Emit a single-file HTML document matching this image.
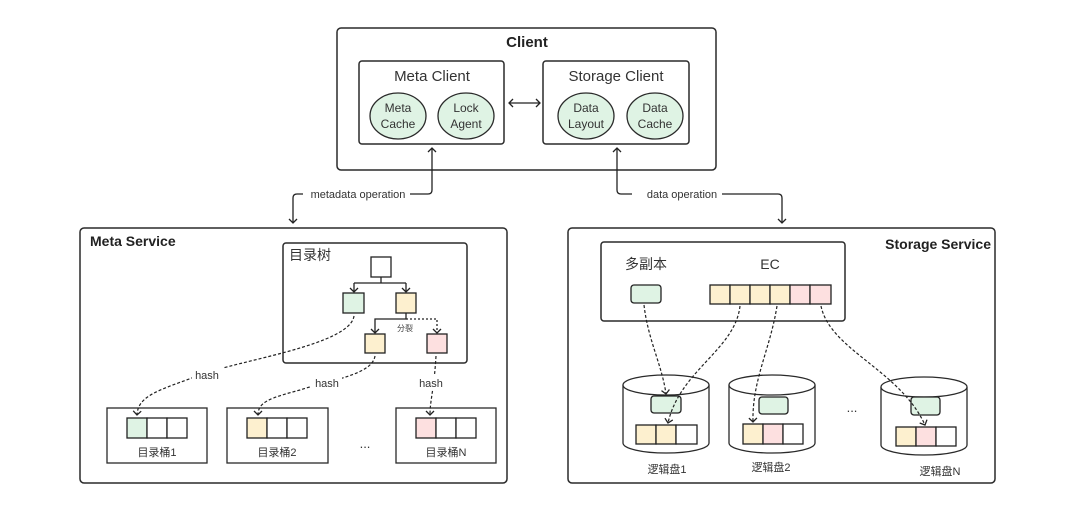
<!DOCTYPE html>
<html><head><meta charset="utf-8"><style>
html,body{margin:0;padding:0;background:#fff;}
svg{display:block;font-family:"Liberation Sans","Noto Sans CJK SC",sans-serif;}
</style></head><body>
<svg width="1080" height="523" viewBox="0 0 1080 523" xmlns="http://www.w3.org/2000/svg">
<defs>
<marker id="ah" markerWidth="10" markerHeight="10" refX="5" refY="5" orient="auto-start-reverse" markerUnits="userSpaceOnUse">
<path d="M1,1 L5,5 L1,9" fill="none" stroke="#222" stroke-width="1.3"/>
</marker>
</defs>
<g fill="none" stroke="#2a2a2a" stroke-width="1.5">
<rect x="337" y="28" width="379" height="142" rx="4"/>
<rect x="359" y="61" width="145" height="83" rx="3"/>
<rect x="543" y="61" width="146" height="83" rx="3"/>
</g>
<g fill="#dff3e4" stroke="#2a2a2a" stroke-width="1.3">
<ellipse cx="398" cy="116" rx="28" ry="23"/>
<ellipse cx="466" cy="116" rx="28" ry="23"/>
<ellipse cx="586" cy="116" rx="28" ry="23"/>
<ellipse cx="655" cy="116" rx="28" ry="23"/>
</g>
<g font-size="12" fill="#333" text-anchor="middle">
<text x="398" y="112">Meta</text><text x="398" y="128">Cache</text>
<text x="466" y="112">Lock</text><text x="466" y="128">Agent</text>
<text x="586" y="112">Data</text><text x="586" y="128">Layout</text>
<text x="655" y="112">Data</text><text x="655" y="128">Cache</text>
</g>
<text x="527" y="47" font-size="15" font-weight="bold" text-anchor="middle" fill="#222">Client</text>
<text x="432" y="81" font-size="15" text-anchor="middle" fill="#333">Meta Client</text>
<text x="616" y="81" font-size="15" text-anchor="middle" fill="#333">Storage Client</text>
<g fill="none" stroke="#222" stroke-width="1.3">
<line x1="509" y1="103" x2="540" y2="103" marker-end="url(#ah)" marker-start="url(#ah)"/>
<path d="M410,194 H428 Q432,194 432,190 V148" marker-end="url(#ah)"/>
<path d="M303,194 H297 Q293,194 293,198 V223" marker-end="url(#ah)"/>
<path d="M632,194 H621 Q617,194 617,190 V148" marker-end="url(#ah)"/>
<path d="M722,194 H778 Q782,194 782,198 V223" marker-end="url(#ah)"/>
</g>
<text x="358" y="198" font-size="11" text-anchor="middle" fill="#333">metadata operation</text>
<text x="682" y="198" font-size="11" text-anchor="middle" fill="#333">data operation</text>

<g fill="none" stroke="#2a2a2a" stroke-width="1.5">
<rect x="80" y="228" width="427" height="255" rx="4"/>
<rect x="283" y="243" width="184" height="120" rx="3"/>
</g>
<text x="90" y="246" font-size="14" font-weight="bold" fill="#222">Meta Service</text>
<text x="289" y="260" font-size="14" fill="#333">目录树</text>
<g stroke="#222" stroke-width="1.3">
<rect x="371" y="257" width="20" height="20" fill="#fff"/>
<rect x="343" y="293" width="21" height="20" fill="#dff3e4"/>
<rect x="396" y="293" width="20" height="20" fill="#fdf0cf"/>
<rect x="365" y="334" width="20" height="19" fill="#fdf0cf"/>
<rect x="427" y="334" width="20" height="19" fill="#fde0e0"/>
</g>
<g fill="none" stroke="#222" stroke-width="1.3">
<path d="M381,277 V283"/>
<path d="M354,283 H406"/>
<line x1="354" y1="283" x2="354" y2="292" marker-end="url(#ah)"/>
<line x1="406" y1="283" x2="406" y2="292" marker-end="url(#ah)"/>
<path d="M406,313 V319 H375 V333" marker-end="url(#ah)"/>
<path d="M406,319 H437 V333" stroke-dasharray="2,2" marker-end="url(#ah)"/>
</g>
<text x="405" y="331" font-size="8" text-anchor="middle" fill="#444">分裂</text>
<g fill="none" stroke="#222" stroke-width="1.2" stroke-dasharray="3,2">
<path d="M354,316 C350,345 240,360 200,375 C160,390 138,395 137,415" marker-end="url(#ah)"/>
<path d="M375,356 C372,375 330,380 300,390 C270,398 258,402 258,415" marker-end="url(#ah)"/>
<path d="M436,356 C434,390 430,400 430,415" marker-end="url(#ah)"/>
</g>
<rect x="192" y="367" width="32" height="14" fill="#fff"/>
<rect x="310" y="375" width="32" height="14" fill="#fff"/>
<rect x="415" y="375" width="32" height="14" fill="#fff"/>
<g font-size="11" text-anchor="middle" fill="#333">
<text x="207" y="379">hash</text><text x="327" y="387">hash</text><text x="431" y="387">hash</text>
</g>
<g fill="none" stroke="#2a2a2a" stroke-width="1.3">
<rect x="107" y="408" width="100" height="55"/>
<rect x="227" y="408" width="101" height="55"/>
<rect x="396" y="408" width="100" height="55"/>
</g>
<g stroke="#222" stroke-width="1.3" fill="#fff">
<rect x="127" y="418" width="20" height="20" fill="#dff3e4"/><rect x="147" y="418" width="20" height="20"/><rect x="167" y="418" width="20" height="20"/>
<rect x="247" y="418" width="20" height="20" fill="#fdf0cf"/><rect x="267" y="418" width="20" height="20"/><rect x="287" y="418" width="20" height="20"/>
<rect x="416" y="418" width="20" height="20" fill="#fde0e0"/><rect x="436" y="418" width="20" height="20"/><rect x="456" y="418" width="20" height="20"/>
</g>
<g font-size="11" text-anchor="middle" fill="#333">
<text x="157" y="456">目录桶1</text><text x="277" y="456">目录桶2</text><text x="446" y="456">目录桶N</text>
<text x="365" y="448" font-size="13">...</text>
</g>

<g fill="none" stroke="#2a2a2a" stroke-width="1.5">
<rect x="568" y="228" width="427" height="255" rx="4"/>
<rect x="601" y="242" width="244" height="79" rx="3"/>
</g>
<text x="991" y="249" font-size="14" font-weight="bold" text-anchor="end" fill="#222">Storage Service</text>
<text x="646" y="269" font-size="14" text-anchor="middle" fill="#333">多副本</text>
<text x="770" y="269" font-size="14" text-anchor="middle" fill="#333">EC</text>
<g stroke="#222" stroke-width="1.3">
<rect x="631" y="285" width="30" height="18" rx="3" fill="#dff3e4"/>
<rect x="710" y="285" width="20" height="19" fill="#fdf0cf"/><rect x="730" y="285" width="20" height="19" fill="#fdf0cf"/>
<rect x="750" y="285" width="20" height="19" fill="#fdf0cf"/><rect x="770" y="285" width="20" height="19" fill="#fdf0cf"/>
<rect x="790" y="285" width="20" height="19" fill="#fde0e0"/><rect x="810" y="285" width="21" height="19" fill="#fde0e0"/>
</g>
<g stroke="#2a2a2a" stroke-width="1.3" fill="#fff">
<path d="M623,385 V443 A43,10 0 0 0 709,443 V385"/>
<ellipse cx="666" cy="385" rx="43" ry="10"/>
<path d="M729,385 V443 A43,10 0 0 0 815,443 V385"/>
<ellipse cx="772" cy="385" rx="43" ry="10"/>
<path d="M881,387 V445 A43,10 0 0 0 967,445 V387"/>
<ellipse cx="924" cy="387" rx="43" ry="10"/>
</g>
<g stroke="#222" stroke-width="1.3" fill="#fff">
<rect x="651" y="396" width="30" height="17" rx="3" fill="#dff3e4"/>
<rect x="636" y="425" width="20" height="19" fill="#fdf0cf"/><rect x="656" y="425" width="20" height="19" fill="#fdf0cf"/><rect x="676" y="425" width="21" height="19"/>
<rect x="759" y="397" width="29" height="17" rx="3" fill="#dff3e4"/>
<rect x="743" y="424" width="20" height="20" fill="#fdf0cf"/><rect x="763" y="424" width="20" height="20" fill="#fde0e0"/><rect x="783" y="424" width="20" height="20"/>
<rect x="911" y="397" width="29" height="18" rx="3" fill="#dff3e4"/>
<rect x="896" y="427" width="20" height="19" fill="#fdf0cf"/><rect x="916" y="427" width="20" height="19" fill="#fde0e0"/><rect x="936" y="427" width="20" height="19"/>
</g>
<g fill="none" stroke="#222" stroke-width="1.2" stroke-dasharray="3,2">
<path d="M644,305 C648,340 662,365 666,394" marker-end="url(#ah)"/>
<path d="M740,306 C735,350 680,370 668,423" marker-end="url(#ah)"/>
<path d="M777,306 C770,350 752,380 753,422" marker-end="url(#ah)"/>
<path d="M821,306 C830,350 900,370 925,425" marker-end="url(#ah)"/>
</g>
<g font-size="11" text-anchor="middle" fill="#333">
<text x="667" y="473">逻辑盘1</text><text x="771" y="471">逻辑盘2</text><text x="940" y="475">逻辑盘N</text>
<text x="852" y="412" font-size="13">...</text>
</g>
</svg>
</body></html>
